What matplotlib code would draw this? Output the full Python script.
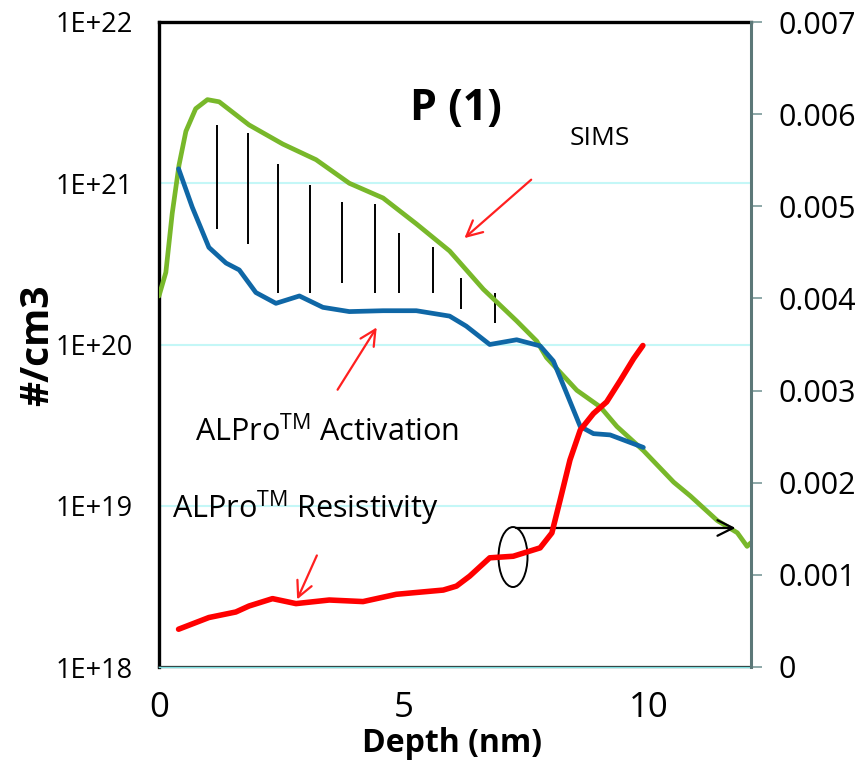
import numpy as np
import matplotlib
matplotlib.use("Agg")
import matplotlib.pyplot as plt
from matplotlib.patches import Ellipse
from matplotlib.ticker import FixedLocator, FixedFormatter

plt.rcParams['font.family'] = ['Open Sans', 'DejaVu Sans']
plt.rcParams['mathtext.fontset'] = 'custom'
plt.rcParams['mathtext.rm'] = 'Open Sans'

# SIMS profile (#/cm3, left axis)
sims_depth = [0.0, 0.14, 0.27, 0.41, 0.55, 0.75, 0.99, 1.23, 1.84, 2.53, 3.21, 3.89,
              4.58, 5.26, 5.94, 6.63, 7.31, 7.72, 7.92, 8.54, 9.02, 9.36, 9.90,
              10.52, 10.86, 11.41, 11.82, 12.02, 12.1]
sims_conc = [2.0e20, 2.8e20, 6.5e20, 1.3e21, 2.1e21, 2.9e21, 3.3e21, 3.2e21, 2.3e21,
             1.75e21, 1.4e21, 1.0e21, 8.1e20, 5.6e20, 3.8e20, 2.2e20, 1.4e20,
             1.05e20, 8.3e19, 5.2e19, 4.1e19, 3.1e19, 2.2e19, 1.4e19, 1.15e19,
             8.1e18, 6.8e18, 5.6e18, 5.9e18]

# ALPro activation (#/cm3, left axis)
act_depth = [0.40, 0.68, 1.02, 1.37, 1.64, 1.98, 2.39, 2.87, 3.35, 3.89, 4.58, 5.26,
             5.94, 6.28, 6.76, 7.31, 7.79, 8.06, 8.33, 8.61, 8.88, 9.22, 9.90]
act_conc = [1.23e21, 7.1e20, 4.0e20, 3.2e20, 2.9e20, 2.1e20, 1.8e20, 2.0e20, 1.7e20,
            1.6e20, 1.62e20, 1.62e20, 1.5e20, 1.3e20, 1.0e20, 1.07e20, 9.8e19,
            7.9e19, 5.0e19, 3.1e19, 2.8e19, 2.75e19, 2.3e19]

# ALPro resistivity (right axis)
res_depth = [0.40, 1.02, 1.57, 1.84, 2.32, 2.80, 3.48, 4.17, 4.85, 5.81, 6.08, 6.35,
             6.76, 7.24, 7.79, 8.03, 8.20, 8.40, 8.61, 8.88, 9.15, 9.43, 9.70, 9.89]
res_val = [0.000410, 0.000537, 0.000597, 0.000662, 0.000742, 0.000688, 0.000727,
           0.000710, 0.000789, 0.000835, 0.000878, 0.000986, 0.001185, 0.001202,
           0.001293, 0.001455, 0.001815, 0.002247, 0.002571, 0.002751, 0.002877,
           0.003111, 0.003346, 0.003489]

# hatch lines between SIMS and activation
hatch_x = [1.19, 1.81, 2.44, 3.09, 3.74, 4.41, 4.90, 5.61, 6.18, 6.87]
hatch_top = [2.3e21, 2.05e21, 1.32e21, 9.8e20, 7.6e20, 7.4e20, 4.9e20, 4.0e20, 2.6e20, 2.1e20]
hatch_bot = [5.2e20, 4.2e20, 2.1e20, 2.1e20, 2.4e20, 2.1e20, 2.1e20, 2.1e20, 1.66e20, 1.35e20]

left_ticks = [1e18, 1e19, 1e20, 1e21, 1e22]
left_labels = ['1E+18', '1E+19', '1E+20', '1E+21', '1E+22']
right_ticks = [0, 0.001, 0.002, 0.003, 0.004, 0.005, 0.006, 0.007]
right_labels = ['0', '0.001', '0.002', '0.003', '0.004', '0.005', '0.006', '0.007']
x_ticks = [0, 5, 10]

green = '#78b82a'
blue = '#0f67a6'
grid_c = '#c4f7f7'

fig = plt.figure(figsize=(8.65, 7.62), dpi=100)
ax = fig.add_axes([159 / 865, 95 / 762, 592 / 865, 645 / 762])
ax2 = ax.twinx()

ax.set_yscale('log')
ax.set_xlim(0, 12.1)
ax.set_ylim(1e18, 1e22)
ax2.set_ylim(0, 0.007)

for t in left_ticks[1:-1]:
    ax.axhline(t, color=grid_c, lw=1.5, zorder=0)

ax.plot(sims_depth, sims_conc, color=green, lw=3.4, solid_joinstyle='round',
        solid_capstyle='round', zorder=3)
ax.plot(act_depth, act_conc, color=blue, lw=3.4, solid_joinstyle='round',
        solid_capstyle='round', zorder=4)
ax.vlines(hatch_x, hatch_bot, hatch_top, color='black', lw=1.4, zorder=2)
ax2.plot(res_depth, res_val, color='#ff0000', lw=4.0, solid_joinstyle='round',
         solid_capstyle='round', zorder=5)

# axes styling
ax.yaxis.set_major_locator(FixedLocator(left_ticks))
ax.yaxis.set_major_formatter(FixedFormatter(left_labels))
ax.yaxis.set_minor_locator(FixedLocator([]))
ax.tick_params(axis='y', length=0, pad=19, labelsize=19.5)
ax.set_xticks(x_ticks)
ax.tick_params(axis='x', length=0, pad=17, labelsize=25)
ax2.set_yticks(right_ticks)
ax2.set_yticklabels(right_labels)
ax2.tick_params(axis='y', length=8, width=1.2, color='#7a9a9a', pad=12, labelsize=22)

for sp in ['left', 'top']:
    ax.spines[sp].set_linewidth(2.4)
    ax.spines[sp].set_color('black')
ax.spines['bottom'].set_linewidth(1.6)
ax.spines['bottom'].set_color('#222222')
ax.spines['right'].set_visible(False)
ax2.spines['right'].set_linewidth(2.2)
ax2.spines['right'].set_color('#5c7878')
for sp in ['left', 'top', 'bottom']:
    ax2.spines[sp].set_visible(False)
ax.axhline(1e18, color='#7fe0e0', lw=1.0, zorder=6, clip_on=False)

# annotations
ax.text(0.502, 0.848, 'P (1)', transform=ax.transAxes, ha='center', va='baseline',
        fontsize=31, fontweight='bold')
ax.text(0.745, 0.809, 'SIMS', transform=ax.transAxes, ha='center', va='baseline',
        fontsize=19)
ax.text(0.061, 0.349, r'ALPro$^{\mathrm{TM}}$ Activation', transform=ax.transAxes,
        ha='left', va='baseline', fontsize=22)
ax.text(0.022, 0.231, r'ALPro$^{\mathrm{TM}}$ Resistivity', transform=ax.transAxes,
        ha='left', va='baseline', fontsize=22)

red_arrow = dict(arrowstyle='->', color='#ff2020', lw=1.6, mutation_scale=28)
ax.annotate('', xy=(6.20, 4.45e20), xytext=(7.65, 1.08e21), arrowprops=red_arrow, zorder=7)
ax.annotate('', xy=(4.48, 1.32e20), xytext=(3.62, 5.07e19), arrowprops=red_arrow, zorder=7)
ax.annotate('', xy=(2.80, 2.53e18), xytext=(3.25, 5.1e18), arrowprops=red_arrow, zorder=7)
ax.annotate('', xy=(11.84, 7.28e18), xytext=(7.24, 7.28e18),
            arrowprops=dict(arrowstyle='->', color='black', lw=1.6, mutation_scale=28), zorder=7)
ax.add_patch(Ellipse((0.598, 0.1705), 0.049, 0.093, transform=ax.transAxes,
                     fill=False, edgecolor='black', lw=1.4, zorder=7))

fig.text(38 / 865, 1 - 345 / 762, '#/cm3', rotation=90, ha='center', va='center',
         fontsize=28, fontweight='bold')
fig.text(452 / 865, 1 - 752 / 762, 'Depth (nm)', ha='center', va='baseline',
         fontsize=23, fontweight='bold')

fig.savefig('out.png', dpi=100)
